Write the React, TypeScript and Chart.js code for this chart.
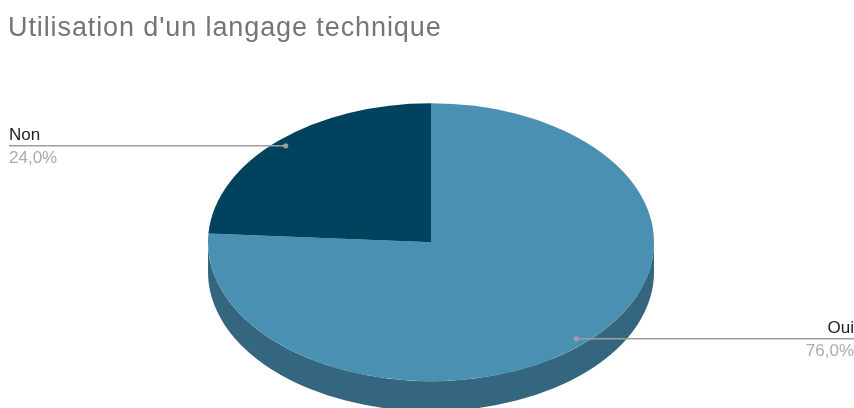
import React, { useEffect, useRef } from "react";
import { Chart, registerables } from "chart.js";

Chart.register(...registerables);

const titleText = "Utilisation d'un langage technique";
const categories = ["Oui", "Non"];
const shares = [76, 24];
const topColors = ["#4a90b2", "#01425f"];
const sideColors = ["#35667f", "#012f44"];

const FONT = "'Liberation Sans', Arial, sans-serif";
const RX = 223;
const RY = 139;
const DEPTH = 30;

const tiltPlugin = {
  id: "tilt",
  beforeDraw(chart: any) {
    chart.ctx.letterSpacing = "0.9px";
  },
  beforeDatasetDraw(chart: any) {
    const ctx = chart.ctx;
    ctx.letterSpacing = "0px";
    const arcs = chart.getDatasetMeta(0).data;
    const { x, y, outerRadius: r } = arcs[0];
    const sy = RY / r;
    ctx.save();
    ctx.translate(x, y);
    ctx.scale(RX / r, sy);
    const d = DEPTH / sy;
    arcs.forEach((el: any, i: number) => {
      const from = Math.max(el.startAngle, 0);
      const to = Math.min(el.endAngle, Math.PI);
      if (to <= from) return;
      ctx.beginPath();
      ctx.arc(0, 0, r, from, to);
      ctx.arc(0, d, r, to, from, true);
      ctx.closePath();
      ctx.fillStyle = sideColors[i];
      ctx.fill();
    });
    ctx.translate(-x, -y);
  },
  afterDatasetDraw(chart: any) {
    chart.ctx.restore();
  },
  afterDraw(chart: any) {
    const ctx = chart.ctx;
    ctx.letterSpacing = "0px";
    const arcs = chart.getDatasetMeta(0).data;
    const { x: cx, y: cy } = arcs[0];
    arcs.forEach((el: any, i: number) => {
      const mid = (el.startAngle + el.endAngle) / 2;
      const px = cx + Math.cos(mid) * RX * 0.952;
      const py = cy + Math.sin(mid) * RY * 0.952;
      const right = px > cx;
      const edge = right ? chart.width : 9;
      ctx.save();
      ctx.strokeStyle = "#9e9e9e";
      ctx.lineWidth = 1.5;
      ctx.beginPath();
      ctx.moveTo(px, py);
      ctx.lineTo(edge, py);
      ctx.stroke();
      ctx.fillStyle = "#9e9e9e";
      ctx.beginPath();
      ctx.arc(px, py, 2.6, 0, Math.PI * 2);
      ctx.fill();
      ctx.textAlign = right ? "right" : "left";
      ctx.textBaseline = "alphabetic";
      ctx.font = `17px ${FONT}`;
      ctx.fillStyle = "#222222";
      ctx.fillText(categories[i], edge, py - 6);
      ctx.fillStyle = "#ababab";
      ctx.fillText(`${shares[i].toFixed(1).replace(".", ",")}%`, edge, py + 17);
      ctx.restore();
    });
  },
};

export default function App() {
  const ref = useRef<HTMLCanvasElement>(null);
  useEffect(() => {
    const chart = new Chart(ref.current!, {
      type: "pie",
      data: {
        labels: categories,
        datasets: [{ data: shares, backgroundColor: topColors, borderWidth: 0 }],
      },
      options: {
        animation: false,
        responsive: false,
        layout: { padding: { left: 8, right: 0, top: 0, bottom: 0 } },
        plugins: {
          legend: { display: false },
          tooltip: { enabled: false },
          title: {
            display: true,
            text: titleText,
            align: "start",
            color: "#757575",
            font: { family: FONT, size: 27, weight: "normal" },
            padding: { top: 12, bottom: 32 },
          },
        },
      },
      plugins: [tiltPlugin],
    } as any);
    return () => chart.destroy();
  }, []);
  return (
    <canvas
      ref={ref}
      width={854}
      height={408}
      style={{ position: "absolute", left: 0, top: 0, display: "block" }}
    />
  );
}
